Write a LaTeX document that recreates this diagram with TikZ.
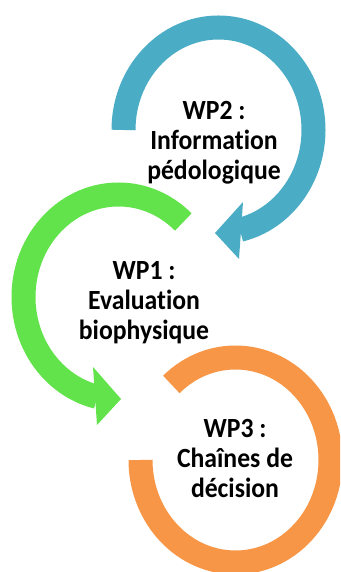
\documentclass[tikz,border=0pt]{standalone}
\usepackage{fontspec}
\setmainfont{Carlito}[Ligatures=NoCommon]
\definecolor{wpblue}{HTML}{4BACC6}
\definecolor{wpgreen}{HTML}{62E34B}
\definecolor{wporange}{HTML}{F79646}

\begin{document}
\begin{tikzpicture}[x=1pt,y=1pt,
  ring/.style={line width=24pt},
  wplabel/.style={align=center,inner sep=0pt,anchor=base,yscale=1.08,
    font=\fontsize{25.7}{28}\selectfont\bfseries}]
\useasboundingbox (0,0) rectangle (340,572);
\begin{scope}
\clip (0,0) rectangle (340,572);
\begin{scope}[wpblue]
\draw[ring] (218.5,442) ++(180:95 and 102.5) arc[start angle=180,end angle=-77,x radius=95,y radius=102.5];
\fill (243,370) -- (215,339) -- (239,313) -- cycle;
\end{scope}
\begin{scope}[wpgreen]
\draw[ring] (118.5,275) ++(47:95 and 102.5) arc[start angle=47,end angle=257,x radius=95,y radius=102.5];
\fill (93,205) -- (121,173) -- (97,147) -- cycle;
\end{scope}
\begin{scope}[wporange]
\draw[ring] (235.5,112) ++(132.5:95 and 102.5) arc[start angle=132.5,end angle=-180,x radius=95,y radius=102.5];
\end{scope}
\end{scope}
\node[wplabel] (wp2) at (214,392) {WP2 :\\Information\\pédologique};
\node[wplabel] (wp1) at (144,232) {WP1 :\\Evaluation\\biophysique};
\node[wplabel] (wp3) at (235,74) {WP3 :\\Chaînes de\\décision};
\end{tikzpicture}
\end{document}
